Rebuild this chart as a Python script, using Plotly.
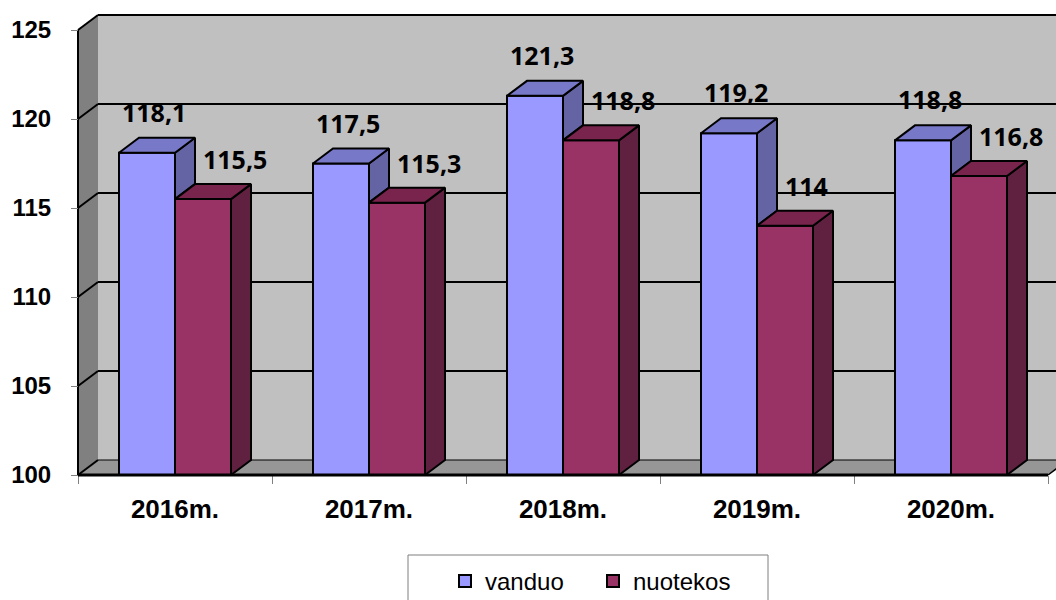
import plotly.graph_objects as go

# ---------------- data ----------------
years = ["2016m.", "2017m.", "2018m.", "2019m.", "2020m."]
vanduo = [118.1, 117.5, 121.3, 119.2, 118.8]
nuotekos = [115.5, 115.3, 118.8, 114.0, 116.8]
y_ticks = [100, 105, 110, 115, 120, 125]
series_names = ["vanduo", "nuotekos"]

# ---------------- geometry (pixel layout of the pseudo-3D frame) ----------------
W, H = 1056, 600
X_FRONT_PX = 78        # pixel of the front-left wall edge (x = -0.5)
CAT_PX = 194           # pixels per category
Y100_PX = 475          # pixel of value 100 on front plane
UNIT_PX = 17.8         # pixels per value unit
L, R, T, B = 75, 0, 12, 122

X_MIN = -0.5 - (X_FRONT_PX - L) / CAT_PX
X_MAX = -0.5 + (W - R - X_FRONT_PX) / CAT_PX
Y_MIN = 100 - ((H - B) - Y100_PX) / UNIT_PX
Y_MAX = 100 + (Y100_PX - T) / UNIT_PX

DX = 20 / CAT_PX       # depth offset in x units
DY = 15 / UNIT_PX      # depth offset in y units
BAR_W = 56 / CAT_PX    # bar width in category units
Y_LO, Y_HI = y_ticks[0], y_ticks[-1]
n = len(years)
x_lo, x_hi = -0.5, n - 0.5


def px_x(px):
    return (px - L) / (W - L - R)


def px_y(py):
    return (H - B - py) / (H - T - B)


front = {"vanduo": "#9999FF", "nuotekos": "#993366"}
topc = {"vanduo": "#7878C8", "nuotekos": "#78244C"}
sidec = {"vanduo": "#6464A5", "nuotekos": "#602040"}

fig = go.Figure()

# front faces as real bars
idx = list(range(n))
for name, vals in [("vanduo", vanduo), ("nuotekos", nuotekos)]:
    fig.add_trace(go.Bar(
        x=idx, y=[v - Y_LO for v in vals], base=Y_LO, name=name,
        marker=dict(color=front[name], line=dict(color="black", width=2)),
        customdata=vals, hovertemplate="%{customdata}<extra>" + name + "</extra>",
    ))


def poly_trace(pts_list, color):
    xs, ys = [], []
    for pts in pts_list:
        for (a, b) in pts:
            xs.append(a)
            ys.append(b)
        xs.append(pts[0][0]); ys.append(pts[0][1])
        xs.append(None); ys.append(None)
    return go.Scatter(x=xs, y=ys, mode="lines", fill="toself", fillcolor=color,
                      line=dict(color="black", width=2), showlegend=False,
                      hoverinfo="skip")


b_sides, b_tops, r_sides, r_tops = [], [], [], []
for i in idx:
    bv, rv = vanduo[i], nuotekos[i]
    lo = max(Y_LO, min(bv, rv))
    if bv > lo:
        b_sides.append([(i, lo), (i, bv), (i + DX, bv + DY), (i + DX, lo + DY)])
    b_tops.append([(i - BAR_W, bv), (i, bv), (i + DX, bv + DY), (i - BAR_W + DX, bv + DY)])
    r_sides.append([(i + BAR_W, Y_LO), (i + BAR_W, rv), (i + BAR_W + DX, rv + DY),
                    (i + BAR_W + DX, Y_LO + DY)])
    r_tops.append([(i, rv), (i + BAR_W, rv), (i + BAR_W + DX, rv + DY), (i + DX, rv + DY)])

fig.add_trace(poly_trace(b_sides, sidec["vanduo"]))
fig.add_trace(poly_trace(b_tops, topc["vanduo"]))
fig.add_trace(poly_trace(r_sides, sidec["nuotekos"]))
fig.add_trace(poly_trace(r_tops, topc["nuotekos"]))

# ---------------- walls / floor / gridlines ----------------
shapes = []


def path(pts):
    return "M" + " L".join(f"{a},{b}" for a, b in pts) + " Z"


shapes.append(dict(type="path", xref="x", yref="y", layer="below",
                   path=path([(x_lo, Y_LO), (x_lo, Y_HI), (x_lo + DX, Y_HI + DY), (x_lo + DX, Y_LO + DY)]),
                   fillcolor="#808080", line=dict(width=0)))
shapes.append(dict(type="rect", xref="x", yref="y", layer="below",
                   x0=x_lo + DX, x1=x_hi + DX, y0=Y_LO + DY, y1=Y_HI + DY,
                   fillcolor="#C0C0C0", line=dict(width=0)))
shapes.append(dict(type="path", xref="x", yref="y", layer="below",
                   path=path([(x_lo, Y_LO), (x_hi, Y_LO), (x_hi + DX, Y_LO + DY), (x_lo + DX, Y_LO + DY)]),
                   fillcolor="#969696", line=dict(width=0)))
for v in y_ticks:
    shapes.append(dict(type="line", xref="x", yref="y", layer="below",
                       x0=x_lo, y0=v, x1=x_lo + DX, y1=v + DY, line=dict(color="black", width=2)))
    shapes.append(dict(type="line", xref="x", yref="y", layer="below",
                       x0=x_lo + DX, y0=v + DY, x1=x_hi + DX, y1=v + DY,
                       line=dict(color="black", width=2 if v != Y_LO else 1)))
shapes.append(dict(type="line", xref="x", yref="y", layer="below",
                   x0=x_lo, y0=Y_LO, x1=x_lo, y1=Y_HI, line=dict(color="black", width=2)))
shapes.append(dict(type="line", xref="x", yref="y", layer="above",
                   x0=x_lo, y0=Y_LO, x1=x_hi, y1=Y_LO, line=dict(color="black", width=3)))
shapes.append(dict(type="line", xref="x", yref="y", layer="above",
                   x0=x_hi, y0=Y_LO, x1=x_hi + DX, y1=Y_LO + DY, line=dict(color="black", width=1.5)))
# legend frame
shapes.append(dict(type="rect", xref="paper", yref="paper",
                   x0=px_x(408), x1=px_x(768), y0=px_y(555), y1=px_y(615),
                   fillcolor="white", line=dict(color="#7f7f7f", width=1), layer="below"))

# ---------------- data labels ----------------
annotations = []
lab_font = dict(family="Open Sans", size=25, color="black", weight="bold")
for i in idx:
    bv, rv = vanduo[i], nuotekos[i]
    annotations.append(dict(x=i - BAR_W / 2 + DX / 2 - 0.015, y=bv + DY, xref="x", yref="y",
                            text=f"{bv:g}".replace(".", ","), showarrow=False,
                            font=lab_font, xanchor="center", yanchor="middle", yshift=26))
    annotations.append(dict(x=i + 0.135, y=rv + DY, xref="x", yref="y",
                            text=f"{rv:g}".replace(".", ","), showarrow=False,
                            font=lab_font, xanchor="left", yanchor="middle", yshift=25))

tick_font = dict(family="Liberation Sans", size=24, color="black", weight="bold")
cat_font = dict(family="Liberation Sans", size=26, color="black", weight="bold")

fig.update_layout(
    width=W, height=H,
    margin=dict(l=L, r=R, t=T, b=B, pad=0, autoexpand=False),
    paper_bgcolor="white", plot_bgcolor="rgba(0,0,0,0)",
    barmode="group", bargap=1 - 2 * BAR_W, bargroupgap=0,
    shapes=shapes, annotations=annotations,
    showlegend=True,
    legend=dict(orientation="h", x=px_x(445), y=px_y(559), xanchor="left", yanchor="top",
                font=dict(family="Liberation Sans", size=24, color="black"),
                bgcolor="rgba(0,0,0,0)", borderwidth=0, entrywidth=103,
                traceorder="normal"),
    xaxis=dict(range=[X_MIN, X_MAX], anchor="free", position=px_y(Y100_PX),
               automargin=False,
               tickmode="array", tickvals=idx, ticktext=years, ticks="",
               tickfont=cat_font, showgrid=False, zeroline=False, showline=False,
               ticklabelstandoff=16,
               minor=dict(tickmode="array", tickvals=[k - 0.5 for k in range(n + 1)],
                          ticks="outside", ticklen=8, tickwidth=1, tickcolor="#808080",
                          showgrid=False)),
    yaxis=dict(range=[Y_MIN, Y_MAX], anchor="free", position=px_x(X_FRONT_PX),
               automargin=False,
               tickmode="array", tickvals=y_ticks, ticks="outside", ticklen=7,
               tickwidth=1, tickcolor="#808080", tickfont=tick_font,
               showgrid=False, zeroline=False, showline=False, ticklabelstandoff=15),
    hovermode="closest",
)

fig.write_html("out.html", config={"displayModeBar": False},
               post_script="document.body.style.margin='0px';document.body.style.overflow='hidden';")
